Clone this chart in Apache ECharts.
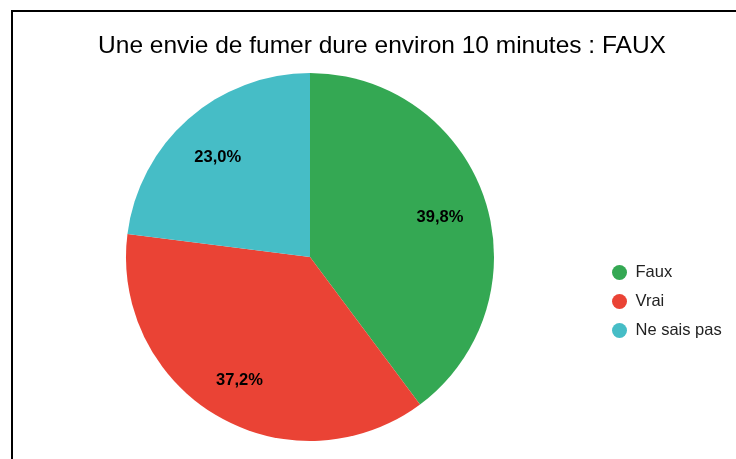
<!DOCTYPE html>
<html><head><meta charset="utf-8">
<script src="https://cdn.jsdelivr.net/npm/echarts@6/dist/echarts.min.js"></script>
<style>
html,body{margin:0;padding:0;background:#fff;}
#frame{position:absolute;left:11px;top:10px;width:800px;height:500px;border-left:2px solid #000;border-top:2px solid #000;}
#chart{position:absolute;left:0;top:0;width:736px;height:459px;}
</style></head>
<body>
<div id="frame"></div>
<div id="chart"></div>
<script>
const titleText = "Une envie de fumer dure environ 10 minutes : FAUX";
const categories = ["Faux", "Vrai", "Ne sais pas"];
const values = [39.8, 37.2, 23.0];
const colors = ["#34a853", "#ea4335", "#46bdc6"];

const chart = echarts.init(document.getElementById('chart'), null, {renderer:'canvas'});
const data = categories.map((c,i)=>({name:c, value:values[i], itemStyle:{color:colors[i]}}));
const fmt = p => p.value.toFixed(1).replace('.', ',') + '%';
chart.setOption({
  animation:false,
  title:{text:titleText, left:377, textAlign:'center', top:29,
    textStyle:{fontFamily:'Liberation Sans, Arial', fontSize:24.5, fontWeight:'normal', color:'#000'}},
  legend:{orient:'vertical', left:607, top:259, icon:'circle', itemWidth:22, itemHeight:15, itemGap:12,
    data:categories,
    textStyle:{fontFamily:'Liberation Sans, Arial', fontSize:16.5, color:'#222'}},
  series:[
    {type:'pie', center:[310,257], radius:[0,184], startAngle:90, clockwise:true,
     data:data, label:{show:false}, labelLine:{show:false}, itemStyle:{borderColor:'#fff', borderWidth:0}},
    {type:'pie', center:[310,257], radius:[0,270], startAngle:90, clockwise:true, silent:true,
     legendHoverLink:false,
     data:categories.map((c,i)=>({name:c+' ', value:values[i]})),
     itemStyle:{color:'rgba(0,0,0,0)'},
     label:{show:true, position:'inside', formatter:fmt, offset:[-1,4],
       fontFamily:'Liberation Sans, Arial', fontSize:16.5, fontWeight:'bold', color:'#000'},
     labelLine:{show:false}}
  ]
});
</script>
</body></html>
